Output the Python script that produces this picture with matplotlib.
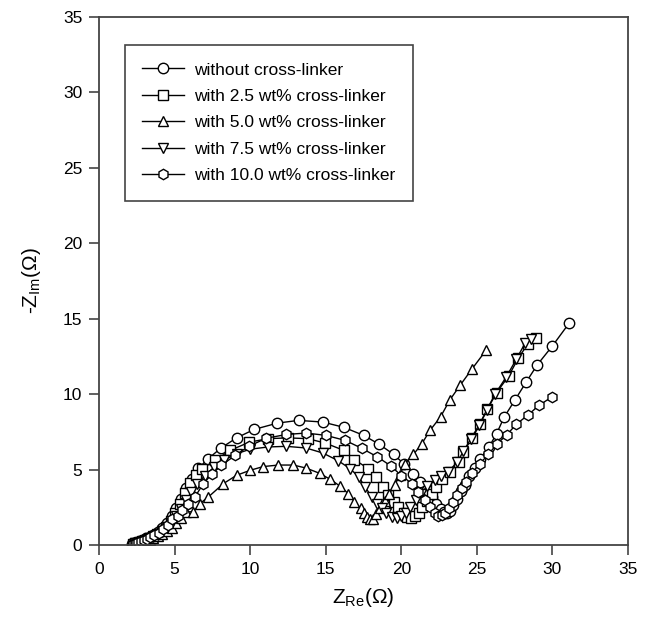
import matplotlib
matplotlib.use("Agg")
import matplotlib.pyplot as plt

plt.rcParams['font.family'] = ['Liberation Sans', 'DejaVu Sans']
plt.rcParams['mathtext.fontset'] = 'custom'
plt.rcParams['mathtext.rm'] = 'Liberation Sans'
plt.rcParams['mathtext.it'] = 'Liberation Sans:italic'

# without cross-linker (circles)
x_0 = [2.2, 2.3, 2.4, 2.55, 2.7, 2.9, 3.1, 3.35, 3.6, 3.9, 4.2, 4.5, 4.8, 5.1, 5.4, 5.75,
       6.13, 6.57, 7.2, 8.07, 9.1, 10.26, 11.8, 13.2, 14.8, 16.2, 17.5, 18.55, 19.5, 20.2,
       20.8, 21.25, 21.7, 22.0, 22.3, 22.6, 22.8, 23.0, 23.2, 23.45, 23.7, 23.95, 24.2, 24.5,
       24.85, 25.2, 25.8, 26.3, 26.8, 27.5, 28.26, 29.0, 30.0, 31.1]
y_0 = [0.05, 0.1, 0.15, 0.2, 0.27, 0.35, 0.44, 0.55, 0.68, 0.85, 1.1, 1.45, 1.9, 2.45, 3.05, 3.75,
       4.4, 5.08, 5.7, 6.43, 7.1, 7.66, 8.08, 8.26, 8.15, 7.8, 7.27, 6.67, 6.0, 5.35,
       4.73, 4.18, 3.63, 3.15, 2.75, 2.4, 2.2, 2.1, 2.25, 2.64, 3.08, 3.55, 4.0, 4.55,
       5.1, 5.7, 6.5, 7.37, 8.47, 9.58, 10.8, 11.95, 13.2, 14.7]

# 2.5 wt% (squares)
x_25 = [2.25, 2.35, 2.5, 2.65, 2.85, 3.05, 3.3, 3.55, 3.85, 4.15, 4.45, 4.75, 5.05, 5.35, 5.7,
        6.0, 6.4, 6.8, 7.68, 8.67, 9.95, 11.2, 12.5, 13.8, 14.96, 16.2, 16.9, 17.8, 18.3, 18.8,
        19.15, 19.5, 19.8, 20.15, 20.4, 20.65, 20.9, 21.15, 21.4, 21.7, 22.0, 22.3, 22.7, 23.2,
        23.8, 24.1, 24.7, 25.2, 25.7, 26.3, 27.1, 27.75, 28.35, 28.9]
y_25 = [0.05, 0.1, 0.15, 0.2, 0.27, 0.35, 0.45, 0.57, 0.72, 0.92, 1.2, 1.6, 2.1, 2.7, 3.43,
        4.1, 4.65, 5.07, 5.61, 6.27, 6.82, 7.05, 7.1, 7.05, 6.76, 6.27, 5.66, 5.07, 4.5, 3.85,
        3.3, 2.86, 2.5, 2.13, 1.87, 1.8, 1.9, 2.15, 2.5, 2.9, 3.35, 3.85, 4.35, 4.84,
        5.5, 6.16, 7.1, 8.0, 9.0, 10.1, 11.2, 12.4, 13.3, 13.75]

# 5.0 wt% (up triangles)
x_50 = [2.3, 2.4, 2.55, 2.7, 2.9, 3.1, 3.35, 3.6, 3.9, 4.2, 4.5, 4.8, 5.1, 5.4, 5.75, 6.24,
        6.68, 7.24, 8.23, 9.1, 9.99, 10.87, 11.87, 12.86, 13.7, 14.6, 15.3, 15.95, 16.5, 16.9,
        17.3, 17.5, 17.7, 17.9, 18.1, 18.35, 18.6, 18.9, 19.2, 19.55, 19.9, 20.25, 20.8, 21.35,
        21.9, 22.6, 23.2, 23.9, 24.7, 25.6]
y_50 = [0.05, 0.09, 0.13, 0.17, 0.22, 0.28, 0.36, 0.45, 0.57, 0.72, 0.9, 1.15, 1.45, 1.8, 2.2, 2.2,
        2.75, 3.19, 4.07, 4.62, 4.95, 5.2, 5.3, 5.3, 5.1, 4.75, 4.35, 3.9, 3.4, 2.86,
        2.44, 2.1, 1.87, 1.7, 1.75, 2.05, 2.45, 2.9, 3.4, 3.95, 4.65, 5.4, 6.0, 6.7,
        7.6, 8.5, 9.6, 10.6, 11.7, 12.9]

# 7.5 wt% (down triangles)
x_75 = [2.3, 2.4, 2.55, 2.7, 2.9, 3.1, 3.35, 3.6, 3.9, 4.2, 4.5, 4.8, 5.1, 5.4, 5.75, 6.1,
        6.5, 7.0, 7.6, 8.3, 9.1, 10.0, 11.2, 12.4, 13.7, 14.8, 15.8, 16.6, 17.2, 17.6,
        18.05, 18.4, 18.7, 19.0, 19.4, 19.7, 20.0, 20.3, 20.6, 20.95, 21.3, 21.7, 22.2, 22.6,
        23.1, 23.7, 24.1, 24.6, 25.15, 25.65, 26.2, 26.95, 27.6, 28.2, 28.6]
y_75 = [0.05, 0.1, 0.14, 0.19, 0.25, 0.32, 0.41, 0.52, 0.66, 0.85, 1.1, 1.45, 1.9, 2.4, 2.95, 3.5,
        4.05, 4.6, 5.15, 5.65, 6.05, 6.35, 6.5, 6.54, 6.43, 6.1, 5.6, 5.07, 4.5, 3.85,
        3.19, 2.75, 2.42, 2.09, 1.87, 1.8, 1.9, 2.15, 2.5, 2.95, 3.4, 3.9, 4.3, 4.6,
        4.85, 5.5, 6.2, 7.05, 7.95, 8.95, 10.0, 11.15, 12.3, 13.4, 13.65]

# 10.0 wt% (hexagons)
x_100 = [2.25, 2.35, 2.45, 2.6, 2.75, 2.95, 3.15, 3.4, 3.65, 3.95, 4.25, 4.55, 4.85, 5.2, 5.5,
         5.9, 6.35, 6.9, 7.46, 8.1, 9.0, 9.9, 11.05, 12.4, 13.7, 15.0, 16.3, 17.4, 18.4, 19.3,
         20.0, 20.7, 21.1, 21.6, 21.9, 22.2, 22.45, 22.7, 22.9, 23.15, 23.4, 23.7, 24.0, 24.3,
         24.7, 25.2, 25.76, 26.3, 26.98, 27.6, 28.4, 29.1, 30.0]
y_100 = [0.05, 0.1, 0.14, 0.19, 0.25, 0.33, 0.42, 0.53, 0.65, 0.82, 1.05, 1.35, 1.75, 1.9, 2.3,
         2.75, 3.19, 4.07, 4.69, 5.28, 5.94, 6.54, 7.07, 7.33, 7.42, 7.27, 6.93, 6.4, 5.85, 5.25,
         4.6, 4.07, 3.5, 2.97, 2.53, 2.09, 1.95, 2.0, 2.15, 2.45, 2.85, 3.3, 3.75, 4.2,
         4.8, 5.4, 6.0, 6.67, 7.3, 8.0, 8.63, 9.25, 9.84]

labels = ["without cross-linker", "with 2.5 wt% cross-linker", "with 5.0 wt% cross-linker",
          "with 7.5 wt% cross-linker", "with 10.0 wt% cross-linker"]

fig = plt.figure(figsize=(6.48, 6.23), dpi=100)
ax = fig.add_axes([0.1528, 0.1252, 0.8164, 0.8475])

series = [(x_0, y_0, "o"), (x_25, y_25, "s"), (x_50, y_50, "^"), (x_75, y_75, "v"), (x_100, y_100, "h")]
for (xs, ys, m), lab in zip(series, labels):
    ax.plot(xs, ys, color="black", lw=1, marker=m, markersize=7.5 if m != "s" else 6.5,
            markerfacecolor="white", markeredgecolor="black", markeredgewidth=1, label=lab)

ax.set_xlim(0, 35)
ax.set_ylim(0, 35)
ax.set_xticks(range(0, 36, 5))
ax.set_yticks(range(0, 36, 5))
ax.tick_params(direction="out", length=7, width=1.2, labelsize=12.5, color="#444444",
               top=False, right=False, pad=5)
for s in ax.spines.values():
    s.set_linewidth(1.3)
    s.set_color("#444444")

ax.set_xlabel(r"Z$_{\mathrm{Re}}$($\Omega$)", fontsize=15, labelpad=7)
ax.set_ylabel(r"-Z$_{\mathrm{Im}}$($\Omega$)", fontsize=15, labelpad=14)

leg = ax.legend(loc="upper left", bbox_to_anchor=(0.049, 0.947), borderaxespad=0,
                fontsize=12.5, handlelength=2.4, handletextpad=0.6, labelspacing=0.65,
                borderpad=1.0, fancybox=False, edgecolor="#444444", framealpha=1)
leg.get_frame().set_linewidth(1.2)

fig.savefig("out.png", dpi=100)
